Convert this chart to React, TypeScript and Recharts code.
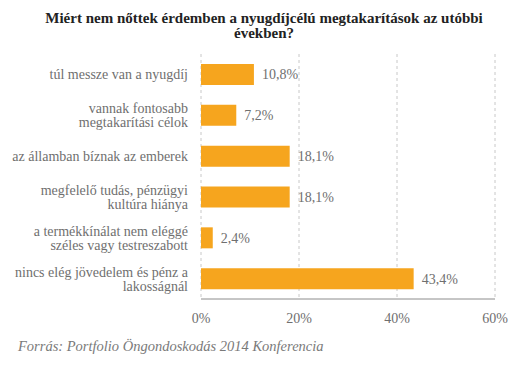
import { Bar, BarChart, CartesianGrid, LabelList, XAxis, YAxis } from "recharts";

const categories = [
  "túl messze van a nyugdíj",
  "vannak fontosabb\nmegtakarítási célok",
  "az államban bíznak az emberek",
  "megfelelő tudás, pénzügyi\nkultúra hiánya",
  "a termékkínálat nem eléggé\nszéles vagy testreszabott",
  "nincs elég jövedelem és pénz a\nlakosságnál",
];
const shares = [10.8, 7.2, 18.1, 18.1, 2.4, 43.4];
const xTicks = [0, 20, 40, 60];

const data = categories.map((name, i) => ({ name, value: shares[i] }));

const FONT = '"Liberation Serif", "DejaVu Serif", serif';
const gray = "#6f6f6f";

const pct = (v: number) => `${String(v).replace(".", ",")}%`;

function CategoryTick(props: any) {
  const { x, y, payload } = props;
  const lines: string[] = String(payload.value).split("\n");
  const lh = 14;
  const first = -((lines.length - 1) * lh) / 2 + 5;
  return (
    <text x={x} y={y} textAnchor="end" fill={gray} fontSize={14} fontFamily={FONT}>
      {lines.map((l, i) => (
        <tspan key={i} x={x} dy={i === 0 ? first : lh}>
          {l}
        </tspan>
      ))}
    </text>
  );
}

export default function App() {
  return (
    <div
      style={{
        position: "absolute",
        left: 0,
        top: 0,
        width: 530,
        height: 365,
        background: "#fff",
        fontFamily: FONT,
      }}
    >
      <div
        style={{
          position: "absolute",
          top: 11,
          left: 0,
          width: 528,
          textAlign: "center",
          fontWeight: "bold",
          fontSize: 15,
          lineHeight: "15px",
          color: "#222",
        }}
      >
        Miért nem nőttek érdemben a nyugdíjcélú megtakarítások az utóbbi
        <br />
        években?
      </div>
      <div style={{ position: "absolute", left: 0, top: 0 }}>
        <BarChart
          width={530}
          height={365}
          layout="vertical"
          data={data}
          margin={{ top: 54, right: 35, bottom: 36, left: 0 }}
        >
          <CartesianGrid
            horizontal={false}
            stroke="#c8c8c8"
            strokeDasharray="3 3"
          />
          <XAxis
            type="number"
            domain={[0, 60]}
            ticks={xTicks}
            tickFormatter={(v: number) => `${v}%`}
            axisLine={{ stroke: "#8c8c8c" }}
            tickLine={false}
            tickMargin={8}
            height={30}
            tick={{ fill: gray, fontSize: 14, fontFamily: FONT }}
          />
          <YAxis
            type="category"
            dataKey="name"
            width={201}
            axisLine={false}
            tickLine={false}
            tickSize={0}
            tickMargin={13}
            interval={0}
            tick={<CategoryTick />}
          />
          <Bar dataKey="value" fill="#F6A51E" barSize={21} isAnimationActive={false}>
            <LabelList
              dataKey="value"
              position="right"
              offset={8}
              formatter={(v: any) => pct(v)}
              fill={gray}
              fontSize={14}
              fontFamily={FONT}
            />
          </Bar>
        </BarChart>
      </div>
      <div
        style={{
          position: "absolute",
          left: 18,
          top: 338,
          fontStyle: "italic",
          fontSize: 14.5,
          color: "#7a7a7a",
        }}
      >
        Forrás: Portfolio Öngondoskodás 2014 Konferencia
      </div>
    </div>
  );
}
